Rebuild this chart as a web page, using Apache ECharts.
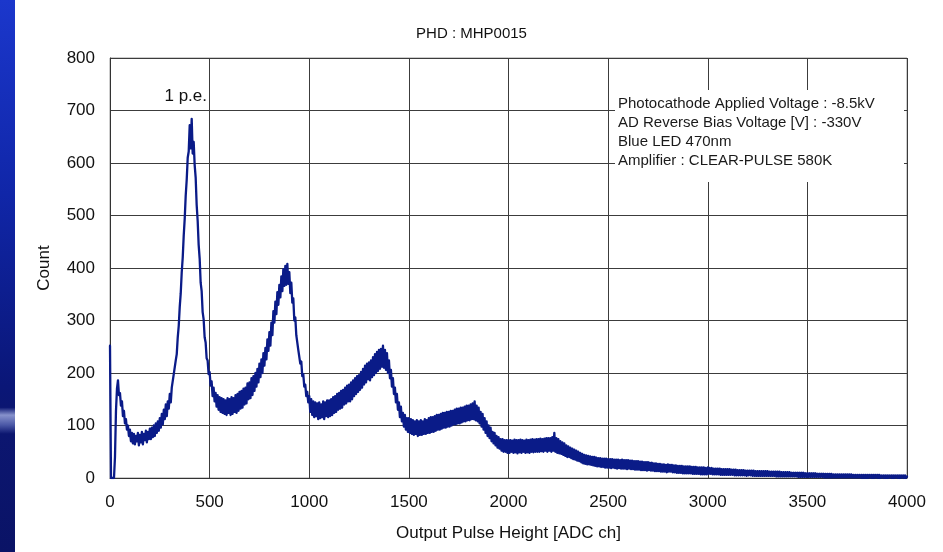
<!DOCTYPE html>
<html>
<head>
<meta charset="utf-8">
<script src="https://cdn.jsdelivr.net/npm/echarts@6/dist/echarts.min.js"></script>
<style>
  html, body { margin: 0; padding: 0; background: #ffffff; }
  #chart { width: 943px; height: 552px; }
</style>
</head>
<body>
<div id="chart"></div>
<script>
// Pulse height spectrum, one count per 5-channel bin
const binWidth = 5;

// ADC ch 0 – 995
const countsA = [
  252, 0, 0, 0, 0, 40, 128, 170, 186, 158, 162, 138, 146, 118, 128, 104, 112, 92, 100, 80,
  92, 70, 86, 66, 84, 64, 80, 70, 86, 62, 82, 68, 88, 64, 84, 72, 90, 68, 88, 74,
  94, 74, 96, 78, 100, 80, 104, 86, 108, 90, 114, 96, 122, 102, 130, 112, 140, 118, 146, 132,
  160, 144, 172, 170, 198, 200, 224, 236, 268, 290, 326, 352, 392, 420, 462, 494, 538, 568, 610, 622,
  672, 628, 684, 618, 640, 596, 572, 520, 490, 444, 418, 372, 356, 316, 302, 268, 258, 228, 224, 198,
  202, 176, 184, 156, 172, 146, 162, 136, 158, 130, 154, 126, 152, 124, 150, 122, 148, 120, 152, 124,
  150, 120, 154, 122, 152, 126, 158, 124, 160, 128, 164, 132, 166, 134, 170, 140, 172, 142, 180, 150,
  182, 152, 190, 158, 194, 166, 200, 174, 208, 182, 218, 192, 226, 200, 238, 214, 248, 226, 264, 242,
  278, 252, 296, 272, 318, 296, 336, 312, 354, 330, 368, 344, 384, 356, 398, 366, 404, 368, 408, 370,
  392, 352, 372, 334, 342, 300, 306, 272, 274, 244, 246, 218, 222, 194, 198, 174, 178, 156, 164, 144
];
// ADC ch 1000 – 1995
const countsB = [
  156, 126, 150, 120, 146, 116, 144, 118, 142, 112, 144, 114, 140, 116, 146, 112, 144, 118, 148, 116,
  148, 118, 150, 120, 154, 124, 156, 126, 160, 130, 162, 132, 166, 134, 168, 140, 172, 142, 176, 146,
  178, 146, 182, 150, 186, 156, 190, 160, 194, 164, 196, 168, 202, 172, 208, 178, 214, 182, 218, 188,
  220, 186, 224, 192, 230, 196, 236, 200, 240, 204, 244, 208, 246, 212, 252, 210, 244, 206, 238, 200,
  224, 190, 206, 174, 190, 160, 172, 144, 160, 130, 144, 116, 136, 108, 124, 98, 120, 92, 114, 88,
  114, 86, 112, 84, 110, 82, 108, 84, 110, 80, 108, 82, 110, 82, 108, 84, 112, 84, 110, 86,
  114, 86, 116, 88, 116, 88, 118, 90, 120, 92, 120, 92, 122, 94, 124, 96, 124, 96, 126, 98,
  126, 98, 128, 100, 128, 102, 130, 102, 132, 104, 132, 104, 134, 106, 134, 108, 136, 108, 138, 110,
  138, 110, 140, 112, 142, 112, 146, 110, 138, 108, 134, 104, 126, 98, 122, 92, 114, 86, 108, 80,
  100, 76, 96, 70, 88, 66, 86, 62, 80, 58, 78, 56, 74, 52, 74, 50, 72, 50, 72, 48
];
// ADC ch 2000 – 2995
const countsC = [
  72, 48, 72, 50, 71, 48, 73, 49, 72, 47, 72, 49, 73, 48, 72, 50, 71, 48, 73, 49,
  72, 48, 73, 50, 74, 49, 73, 50, 74, 50, 74, 50, 75, 51, 74, 50, 75, 52, 76, 50,
  76, 52, 76, 50, 78, 52, 86, 50, 76, 48, 74, 47, 70, 46, 68, 44, 66, 42, 62, 40,
  60, 40, 58, 38, 56, 36, 54, 35, 52, 33, 50, 32, 48, 30, 46, 28, 44, 27, 43, 26,
  42, 26, 41, 25, 40, 24, 40, 23, 39, 22, 38, 22, 38, 21, 37, 21, 37, 20, 37, 20,
  36, 20, 36, 19, 36, 20, 35, 19, 35, 18, 35, 19, 34, 18, 35, 18, 34, 18, 34, 17,
  34, 18, 33, 17, 33, 17, 32, 16, 32, 16, 32, 16, 31, 15, 31, 15, 30, 15, 30, 14,
  30, 15, 29, 14, 29, 14, 28, 13, 28, 13, 27, 13, 27, 12, 26, 12, 26, 12, 25, 11,
  26, 12, 25, 12, 25, 11, 24, 11, 24, 10, 23, 10, 23, 10, 23, 9, 22, 9, 22, 9,
  22, 9, 22, 9, 21, 8, 21, 8, 21, 8, 20, 8, 20, 7, 20, 7, 20, 7, 19, 7
];
// ADC ch 3000 – 4000
const countsD = [
  20, 8, 19, 8, 19, 7, 18, 7, 18, 7, 18, 7, 18, 6, 17, 6, 17, 6, 17, 6,
  17, 6, 17, 6, 16, 6, 16, 5, 16, 5, 15, 5, 15, 5, 15, 5, 15, 5, 14, 4,
  14, 5, 14, 5, 14, 4, 14, 4, 13, 4, 13, 4, 13, 4, 13, 4, 13, 4, 13, 4,
  13, 4, 12, 4, 12, 4, 12, 4, 12, 3, 12, 3, 12, 3, 11, 3, 11, 3, 11, 3,
  11, 3, 11, 3, 10, 3, 10, 3, 10, 3, 10, 2, 10, 2, 10, 2, 10, 2, 9, 2,
  9, 2, 9, 2, 9, 2, 9, 2, 9, 2, 8, 2, 8, 2, 8, 2, 8, 1, 8, 1,
  8, 1, 8, 1, 8, 1, 7, 1, 7, 1, 7, 1, 7, 1, 7, 1, 7, 1, 7, 1,
  7, 1, 7, 1, 7, 1, 6, 1, 6, 1, 6, 1, 6, 1, 6, 0, 6, 0, 6, 0,
  6, 0, 6, 1, 6, 0, 6, 0, 6, 1, 6, 0, 6, 0, 5, 1, 5, 0, 5, 0,
  5, 0, 5, 1, 5, 0, 5, 0, 5, 1, 5, 0, 5, 0, 5, 1, 5, 0, 5, 0,
  3
];

const xTicks = { min: 0, max: 4000, interval: 500 };
const yTicks = { min: 0, max: 800, interval: 100 };

const infoLines = [
  'Photocathode Applied Voltage : -8.5kV',
  'AD Reverse Bias Voltage [V] : -330V',
  'Blue LED 470nm',
  'Amplifier : CLEAR-PULSE 580K'
];
const peakLabel = '1 p.e.';

const counts = countsA.concat(countsB, countsC, countsD);
const spectrum = counts.map((c, i) => [i * binWidth, c]);

const FONT = '"Liberation Sans", Arial, sans-serif';
const plain = v => String(v);

const chart = echarts.init(document.getElementById('chart'), null, { renderer: 'canvas' });

chart.setOption({
  animation: false,
  backgroundColor: '#ffffff',
  textStyle: { fontFamily: FONT },
  title: {
    text: 'PHD : MHP0015',
    left: 'center',
    top: 21,
    textStyle: { fontFamily: FONT, fontSize: 15, fontWeight: 'normal', color: '#111111' }
  },
  grid: {
    left: 110, right: 36, top: 58, bottom: 74,
    show: true, borderColor: '#9a9a9a', borderWidth: 1, backgroundColor: 'transparent'
  },
  xAxis: {
    type: 'value',
    min: xTicks.min, max: xTicks.max, interval: xTicks.interval,
    name: 'Output Pulse Height [ADC ch]',
    nameLocation: 'middle',
    nameGap: 47,
    nameTextStyle: { fontFamily: FONT, fontSize: 17, color: '#111111' },
    axisLine: { show: true, lineStyle: { color: '#333333', width: 1 } },
    axisTick: { show: false },
    axisLabel: { margin: 16, fontFamily: FONT, fontSize: 17, color: '#111111', formatter: plain },
    splitLine: { show: true, lineStyle: { color: '#3c3c3c', width: 1 } }
  },
  yAxis: {
    type: 'value',
    min: yTicks.min, max: yTicks.max, interval: yTicks.interval,
    name: 'Count',
    nameLocation: 'middle',
    nameGap: 57,
    nameTextStyle: { fontFamily: FONT, fontSize: 17, color: '#111111' },
    axisLine: { show: true, lineStyle: { color: '#333333', width: 1 } },
    axisTick: { show: false },
    axisLabel: { margin: 15, fontFamily: FONT, fontSize: 17, color: '#111111', formatter: plain },
    splitLine: { show: true, lineStyle: { color: '#3c3c3c', width: 1 } }
  },
  series: [{
    type: 'line',
    data: spectrum,
    showSymbol: false,
    symbol: 'none',
    sampling: null,
    lineStyle: { color: '#0a1b88', width: 2.3, join: 'round', cap: 'round' },
    z: 3
  }],
  graphic: [
    {
      type: 'rect',
      z: 100,
      shape: { x: 0, y: 0, width: 15, height: 552 },
      style: {
        fill: new echarts.graphic.LinearGradient(0, 0, 0, 1, [
          { offset: 0, color: '#1b37cc' },
          { offset: 0.35, color: '#1026a8' },
          { offset: 0.70, color: '#0a1677' },
          { offset: 0.738, color: '#0b1672' },
          { offset: 0.752, color: '#8792cc' },
          { offset: 0.770, color: '#4a57a6' },
          { offset: 0.786, color: '#0c1670' },
          { offset: 1, color: '#0a1366' }
        ])
      }
    },
    {
      type: 'rect',
      z: 50,
      shape: { x: 615, y: 90, width: 289, height: 92 },
      style: { fill: '#ffffff' }
    },
    {
      type: 'text',
      z: 51,
      x: 618,
      y: 94,
      style: {
        text: infoLines.join('\n'),
        fontFamily: FONT,
        fontSize: 15,
        lineHeight: 19,
        fill: '#1a1a1a'
      }
    },
    {
      type: 'text',
      z: 51,
      x: 207,
      y: 88,
      style: {
        text: peakLabel,
        fontFamily: FONT,
        fontSize: 17,
        textAlign: 'right',
        fill: '#111111'
      }
    }
  ]
});
</script>
</body>
</html>
